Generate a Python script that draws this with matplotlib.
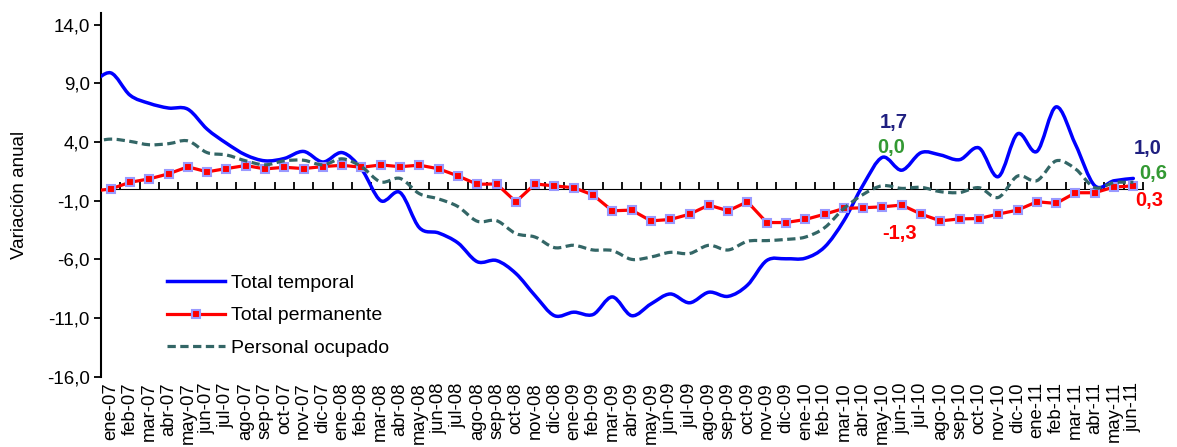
import numpy as np
import matplotlib
matplotlib.use('Agg')
import matplotlib.pyplot as plt
from matplotlib.path import Path
from matplotlib.patches import PathPatch
from matplotlib.lines import Line2D

plt.rcParams['font.family'] = ['Liberation Sans', 'DejaVu Sans']

# months (first one, dic-06, sits just left of the visible axis)
months = ['dic-06',
          'ene-07', 'feb-07', 'mar-07', 'abr-07', 'may-07', 'jun-07', 'jul-07', 'ago-07', 'sep-07', 'oct-07', 'nov-07', 'dic-07',
          'ene-08', 'feb-08', 'mar-08', 'abr-08', 'may-08', 'jun-08', 'jul-08', 'ago-08', 'sep-08', 'oct-08', 'nov-08', 'dic-08',
          'ene-09', 'feb-09', 'mar-09', 'abr-09', 'may-09', 'jun-09', 'jul-09', 'ago-09', 'sep-09', 'oct-09', 'nov-09', 'dic-09',
          'ene-10', 'feb-10', 'mar-10', 'abr-10', 'may-10', 'jun-10', 'jul-10', 'ago-10', 'sep-10', 'oct-10', 'nov-10', 'dic-10',
          'ene-11', 'feb-11', 'mar-11', 'abr-11', 'may-11', 'jun-11']

total_temporal = [8.9,
                  9.9, 8.0, 7.3, 6.9, 6.8, 5.1, 3.9, 2.9, 2.4, 2.6, 3.2, 2.3,
                  3.1, 1.7, -1.0, -0.3, -3.3, -3.75, -4.6, -6.2, -6.1, -7.2, -9.1, -10.8,
                  -10.5, -10.7, -9.2, -10.8, -9.8, -8.95, -9.7, -8.8, -9.15, -8.2, -6.1, -5.95,
                  -5.9, -4.95, -2.7, 0.35, 2.7, 1.6, 3.1, 2.9, 2.5, 3.5, 1.05, 4.7,
                  3.2, 7.0, 3.8, 0.28, 0.7, 0.9]

total_permanente = [-0.2,
                    0.0, 0.57, 0.86, 1.29, 1.89, 1.46, 1.74, 2.0, 1.71, 1.85, 1.74, 1.91,
                    2.02, 1.85, 2.05, 1.9, 2.03, 1.72, 1.11, 0.4, 0.43, -1.09, 0.43, 0.26,
                    0.11, -0.51, -1.86, -1.8, -2.72, -2.6, -2.15, -1.37, -1.86, -1.09, -2.86, -2.86,
                    -2.6, -2.15, -1.66, -1.6, -1.52, -1.37, -2.14, -2.72, -2.55, -2.52, -2.14, -1.8,
                    -1.09, -1.23, -0.32, -0.32, 0.17, 0.26]

personal_ocupado = [4.0,
                    4.25, 4.06, 3.77, 3.86, 4.1, 3.1, 2.9, 2.4, 2.06, 2.4, 2.45, 2.06,
                    2.57, 1.9, 0.6, 0.9, -0.4, -0.85, -1.5, -2.75, -2.7, -3.8, -4.1, -5.0,
                    -4.8, -5.2, -5.25, -6.0, -5.8, -5.4, -5.5, -4.8, -5.2, -4.46, -4.4, -4.3,
                    -4.1, -3.3, -1.66, -0.46, 0.28, 0.05, 0.14, -0.23, -0.3, 0.11, -0.72, 1.1,
                    0.71, 2.4, 1.71, 0.11, 0.54, 0.57]

# value labels written next to the lines
label_texts = ['1,7', '0,0', '-1,3', '1,0', '0,6', '0,3']
label_months = ['may-10', 'may-10', 'may-10', 'jun-11', 'jun-11', 'jun-11']
label_colors = ['#1F1F80', '#339933', '#FF0000', '#1F1F80', '#339933', '#FF0000']
# placement (offset in months, y in data units)
label_dx = [0.6, 0.45, 0.9, 0.72, 1.05, 0.8]
label_y = [5.7, 3.55, -3.8, 3.45, 1.3, -1.0]

yticks = [-16, -11, -6, -1, 4, 9, 14]
ymin, ymax = -16, 15


def smooth_path(x, y):
    # excel style smoothed line (catmull-rom as bezier)
    pts = np.column_stack([x, y]).astype(float)
    n = len(pts)
    verts = [pts[0]]
    codes = [Path.MOVETO]
    for i in range(n - 1):
        p0 = pts[max(i - 1, 0)]
        p1 = pts[i]
        p2 = pts[i + 1]
        p3 = pts[min(i + 2, n - 1)]
        verts += [p1 + (p2 - p0) / 6, p2 - (p3 - p1) / 6, p2]
        codes += [Path.CURVE4] * 3
    return Path(verts, codes)


x = np.arange(len(months))

fig = plt.figure(figsize=(11.77, 4.47), dpi=100)
ax = fig.add_axes([0.0858, 0.1573, 0.8853, 0.8136])

blue = '#0000FF'
red = '#FF0000'
green = '#336666'

ax.add_patch(PathPatch(smooth_path(x, total_temporal), fill=False, edgecolor=blue,
                       lw=2.5, capstyle='round', joinstyle='round', zorder=3))
ax.plot(x, total_permanente, color=red, lw=2.3, marker='s', markersize=5.5,
        markerfacecolor=red, markeredgecolor='#9999FF', markeredgewidth=1.5, zorder=4)
ax.add_patch(PathPatch(smooth_path(x, personal_ocupado), fill=False, edgecolor=green,
                       lw=2.3, linestyle=(0, (2.6, 1.4)), zorder=5))

ax.set_xlim(0.5, len(months) - 0.5)
ax.set_ylim(ymin, ymax)

# y axis
ax.set_yticks(yticks)
ax.set_yticklabels([f'{v:.1f}'.replace('.', ',') for v in yticks], fontsize=13.5)
ax.tick_params(axis='y', direction='out', length=5, width=1.3, pad=3)
ax.set_ylabel('Variación anual', fontsize=13.5, labelpad=14)

# x axis labels at the bottom
ax.set_xticks(x[1:])
ax.set_xticklabels(months[1:], rotation=90, fontsize=13.3, va='top', ha='center')
ax.tick_params(axis='x', length=0, pad=4)

for side in ['top', 'right', 'bottom']:
    ax.spines[side].set_visible(False)
ax.spines['left'].set_linewidth(1.5)

# zero line with ticks between months
zero_frac = (0 - ymin) / (ymax - ymin)
sec = ax.secondary_xaxis(zero_frac)
sec.set_xticks(np.arange(0.5, len(months), 1.0))
sec.set_xticklabels([])
sec.tick_params(direction='out', length=5, width=1.3)
sec.spines['bottom'].set_linewidth(1.5)

for txt, m, dx, v, c in zip(label_texts, label_months, label_dx, label_y, label_colors):
    ax.text(months.index(m) + dx, v, txt, color=c, fontsize=14.5, fontweight='bold',
            ha='center', va='center', clip_on=False)

handles = [Line2D([], [], color=blue, lw=2.5),
           Line2D([], [], color=red, lw=2.3, marker='s', markersize=5.5,
                  markerfacecolor=red, markeredgecolor='#9999FF', markeredgewidth=1.5),
           Line2D([], [], color=green, lw=2.3, linestyle=(0, (2.6, 1.4)))]
ax.legend(handles, ['Total temporal', 'Total permanente', 'Personal ocupado'],
          loc='upper left', bbox_to_anchor=(0.0555, 0.302), frameon=False, fontsize=14,
          handlelength=3.0, handletextpad=0.3, labelspacing=0.75, numpoints=1,
          borderaxespad=0)

fig.savefig('out.png', dpi=100)
plt.close(fig)
